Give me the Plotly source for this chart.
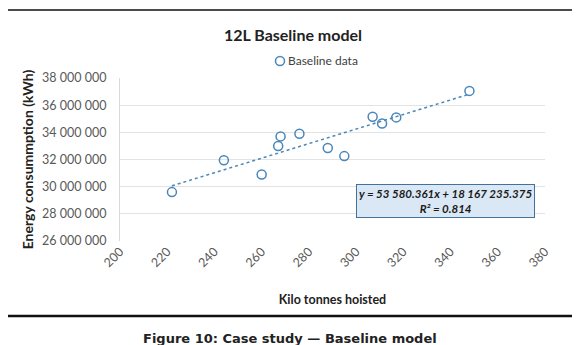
import plotly.graph_objects as go

# Data
kilo_tonnes = [222, 244, 260, 267, 268, 276, 288, 295, 307, 311, 317, 348]
energy_kwh = [29600000, 31950000, 30900000, 33000000, 33700000, 33900000,
              32850000, 32250000, 35150000, 34650000, 35100000, 37050000]
slope = 53580.361
intercept = 18167235.375
r_squared = 0.814
y_ticks = [26000000, 28000000, 30000000, 32000000, 34000000, 36000000, 38000000]
x_ticks = [200, 220, 240, 260, 280, 300, 320, 340, 360, 380]
series_name = "Baseline data"

blue = "#4a86b8"
font_family = "Lato, 'Open Sans', sans-serif"

OFF = 8  # page body margin offset
W, H = 580, 345
# plot area in page pixels
PX0, PX1, PY0, PY1 = 120, 545, 78, 241
L, T = PX0 - OFF, PY0 - OFF
R, B = W - (PX1 - OFF), H - (PY1 - OFF)
PW, PH = PX1 - PX0, PY1 - PY0


def px_x(px):
    return (px - PX0) / PW


def px_y(py):
    return 1 - (py - PY0) / PH


trend_x = [min(kilo_tonnes), max(kilo_tonnes)]
trend_y = [slope * v + intercept for v in trend_x]

fig = go.Figure()
fig.add_trace(go.Scatter(
    x=trend_x, y=trend_y, mode="lines", showlegend=False, hoverinfo="skip",
    line=dict(color=blue, width=1.5, dash="dot")))
fig.add_trace(go.Scatter(
    x=kilo_tonnes, y=energy_kwh, mode="markers", name=series_name, showlegend=False,
    marker=dict(symbol="circle-open", size=9, color=blue, line=dict(width=1.5))))

fig.update_layout(
    width=W, height=H,
    margin=dict(l=L, r=R, t=T, b=B),
    paper_bgcolor="white", plot_bgcolor="white",
    separators=". ",
    font=dict(family=font_family, size=12, color="#595959"),
    title=dict(text="<b>12L Baseline model</b>", x=(293 - OFF) / W, xanchor="center",
               y=1 - (35 - OFF) / H, yanchor="middle",
               font=dict(size=16, color="#222222", family=font_family)),
    showlegend=False,
)

fig.update_xaxes(
    range=[200, 380], tickvals=x_ticks, tickangle=-45, showgrid=False, zeroline=False,
    showline=False, ticks="", tickfont=dict(size=12.5, color="#595959"),
    automargin=False,
    title=dict(text="<b>Kilo tonnes hoisted</b>", standoff=26,
               font=dict(size=12.5, color="#222222")))
fig.update_yaxes(
    range=[26000000, 38000000], tickvals=y_ticks, tickformat=",d", showgrid=True,
    gridcolor="#e3e3e3", gridwidth=1, zeroline=False, showline=True,
    linecolor="#d9d9d9", ticks="", ticklabelstandoff=10, automargin=False,
    tickfont=dict(size=12.5, color="#595959"),
    title=dict(text="<b>Energy consummption (kWh)</b>", standoff=5,
               font=dict(size=14, color="#222222")))

# Legend (drawn manually to match the compact marker/text spacing)
fig.add_shape(type="circle", xref="paper", yref="paper",
              x0=px_x(280 - 4.5), x1=px_x(280 + 4.5),
              y0=px_y(61 + 4.5), y1=px_y(61 - 4.5),
              line=dict(color=blue, width=1.5), fillcolor="rgba(0,0,0,0)")
fig.add_annotation(
    xref="paper", yref="paper", x=px_x(286), y=px_y(61), xanchor="left", yanchor="middle",
    text=series_name, showarrow=False, font=dict(size=12, color="#404040"))

# Equation box
fig.add_annotation(
    xref="paper", yref="paper", x=px_x(445), y=px_y(201), xanchor="center", yanchor="middle",
    text=f"<b><i>y = 53 580.361x + 18 167 235.375<br>R² = {r_squared}</i></b>",
    showarrow=False, align="center", bgcolor="#dae8f5", bordercolor="#41719c",
    borderwidth=1, borderpad=2, font=dict(size=11.5, color="#1a1a1a", family=font_family))

# Chart area border
fig.add_shape(type="rect", xref="paper", yref="paper",
              x0=px_x(1.5), x1=px_x(573), y0=px_y(316), y1=px_y(10),
              line=dict(color="#111111", width=1.3), fillcolor="rgba(0,0,0,0)", layer="below")
fig.add_shape(type="line", xref="paper", yref="paper",
              x0=px_x(1), x1=px_x(573.5), y0=px_y(316), y1=px_y(316),
              line=dict(color="#111111", width=2.5))

# Caption
fig.add_annotation(
    xref="paper", yref="paper", x=px_x(290), y=px_y(338),
    xanchor="center", yanchor="middle", showarrow=False,
    text="<b>Figure 10: Case study \u2014 Baseline model</b>",
    font=dict(size=13, color="#222222", family="DejaVu Sans, Verdana, sans-serif"))

fig.write_html("out.html")
